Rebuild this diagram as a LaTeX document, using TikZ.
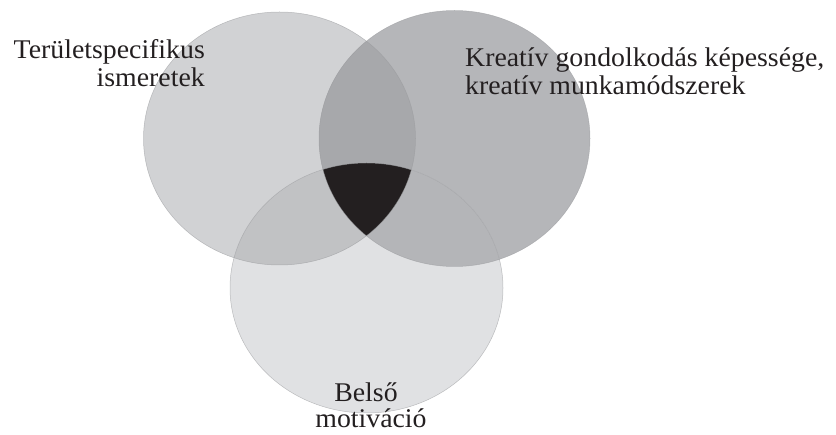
\documentclass[tikz,border=0pt]{standalone}
\usepackage{fontspec}
\setmainfont[FakeStretch=1.03]{Liberation Serif}
\definecolor{cL}{HTML}{D1D2D4}
\definecolor{cR}{HTML}{B5B6B9}
\definecolor{cB}{HTML}{E0E1E3}
\definecolor{cLR}{HTML}{A7A8AB}
\definecolor{cLB}{HTML}{C1C2C4}
\definecolor{cRB}{HTML}{B4B5B8}
\definecolor{cC}{HTML}{231F20}
\definecolor{edge}{HTML}{9A9B9E}
\definecolor{txt}{HTML}{231F20}
\begin{document}
\begin{tikzpicture}[x=1pt,y=-1pt,
  lbl/.style={inner sep=0pt,text=txt,font=\fontsize{27}{30}\selectfont},
  rim/.style={draw=edge,line width=0.5pt}]
\useasboundingbox (0,0) rectangle (836,435);
\def\Lpath{(279.5,138.5) ellipse [x radius=136pt,y radius=126.5pt]}
\def\Rpath{(454.5,138.5) ellipse [x radius=135.5pt,y radius=128pt]}
\def\Bpath{(366.5,288) ellipse [x radius=136.5pt,y radius=125pt]}
% base fills
\fill[cL] \Lpath;
\fill[cR] \Rpath;
\fill[cB] \Bpath;
% pairwise intersections
\begin{scope}
  \clip \Lpath;
  \fill[cLR] \Rpath;
  \fill[cLB] \Bpath;
\end{scope}
\begin{scope}
  \clip \Rpath;
  \fill[cRB] \Bpath;
\end{scope}
% triple intersection
\begin{scope}
  \clip \Lpath;
  \clip \Rpath;
  \fill[cC] \Bpath;
\end{scope}
% outlines
\draw[rim,draw opacity=0.6] \Lpath;
\draw[rim,draw opacity=0.6] \Rpath;
\draw[rim,draw opacity=0.6] \Bpath;
% labels
\node[lbl,anchor=base east] (l1) at (205,59) {Területspecifikus};
\node[lbl,anchor=base east] (l2) at (205,87) {ismeretek};
\node[lbl,anchor=base west] (r1) at (465,67) {Kreatív gondolkodás képessége,};
\node[lbl,anchor=base west] (r2) at (465,95) {kreatív munkamódszerek};
\node[lbl,anchor=base] (b1) at (366,402) {Belső};
\node[lbl,anchor=base] (b2) at (371,428) {motiváció};
\end{tikzpicture}
\end{document}
